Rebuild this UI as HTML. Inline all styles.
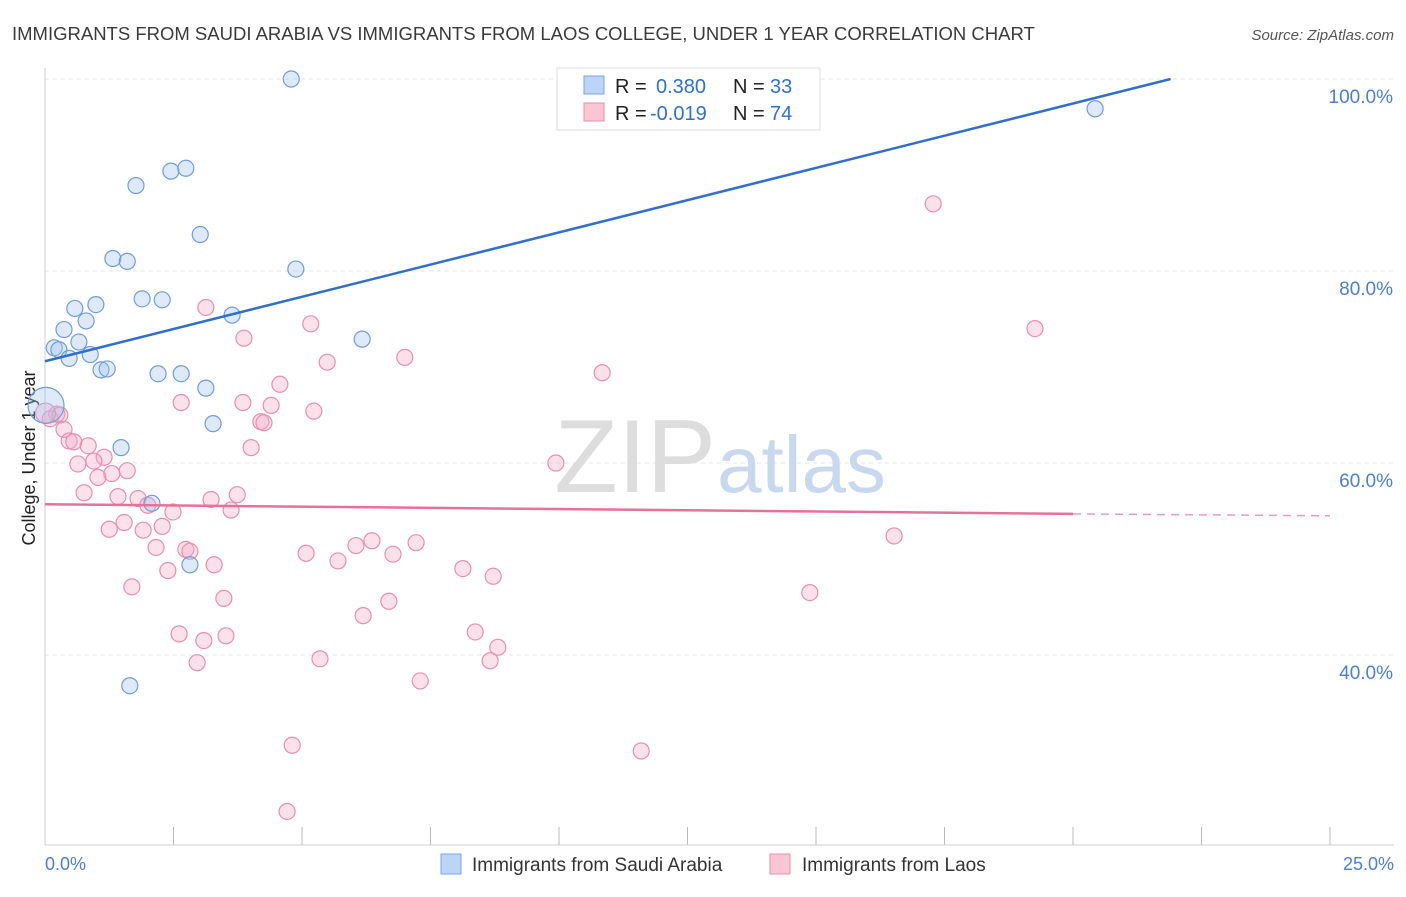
<!DOCTYPE html>
<html><head><meta charset="utf-8"><style>
body{margin:0;background:#fff;font-family:"Liberation Sans",sans-serif}
svg text{font-family:"Liberation Sans",sans-serif}
</style></head><body>
<svg width="1406" height="892">
<text x="12" y="40" font-size="18.5" fill="#3a3a3a">IMMIGRANTS FROM SAUDI ARABIA VS IMMIGRANTS FROM LAOS COLLEGE, UNDER 1 YEAR CORRELATION CHART</text>
<text x="1394" y="40" font-size="15" fill="#555" text-anchor="end" font-style="italic">Source: ZipAtlas.com</text>
<g id="grid"></g>
<line x1="45" y1="68" x2="45" y2="845" stroke="#ccc"/>
<line x1="45" y1="845" x2="1394" y2="845" stroke="#ccc"/>
<text x="716" y="492" font-size="104" fill="#ddd" text-anchor="end" font-family="Liberation Serif">ZIP</text>
<text x="717" y="492" font-size="80" fill="#c8d8ee">atlas</text>
<text x="35" y="458" font-size="18" fill="#222" text-anchor="middle" transform="rotate(-90 35 458)">College, Under 1 year</text>
<text x="45" y="870" font-size="18" fill="#4a7fd4">0.0%</text>
<text x="1394" y="870" font-size="18" fill="#4a7fd4" text-anchor="end">25.0%</text>
<g id="marks"></g>
<g>
<rect x="557" y="68" width="263" height="62" fill="#fff" stroke="#ddd"/>
<rect x="584" y="76" width="20" height="18" fill="#bcd4f6" stroke="#7aa6e0"/>
<rect x="584" y="103" width="20" height="18" fill="#f9c6d6" stroke="#e98fae"/>
<text x="615" y="93" font-size="20" fill="#222">R =</text><text x="656" y="93" font-size="20" fill="#2f6fd0">0.380</text>
<text x="733" y="93" font-size="20" fill="#222">N =</text><text x="770" y="93" font-size="20" fill="#2f6fd0">33</text>
<text x="615" y="120" font-size="20" fill="#222">R =</text><text x="650" y="120" font-size="20" fill="#2f6fd0">-0.019</text>
<text x="733" y="120" font-size="20" fill="#222">N =</text><text x="770" y="120" font-size="20" fill="#2f6fd0">74</text>
</g>
<g>
<rect x="441" y="854" width="20" height="20" fill="#bcd4f6" stroke="#7aa6e0"/>
<text x="472" y="871" font-size="19" fill="#333">Immigrants from Saudi Arabia</text>
<rect x="770" y="854" width="20" height="20" fill="#f9c6d6" stroke="#e98fae"/>
<text x="802" y="871" font-size="19" fill="#333">Immigrants from Laos</text>
</g>
</svg>
<script>
const yTicks=[40,60,80,100];
const xTicks=[0,2.5,5,7.5,10,12.5,15,17.5,20,22.5,25];
const blueX=[4.79,20.43,1.77,2.45,2.74,3.02,1.32,1.60,4.88,1.89,2.28,0.58,0.99,0.80,3.64,0.37,0.66,0.18,0.27,0.47,0.88,1.09,1.21,2.20,2.65,3.13,6.17,3.27,1.48,2.08,2.82,1.65,0.02];
const blueY=[100,96.9,88.9,90.4,90.7,83.8,81.3,81.0,80.2,77.1,77.0,76.1,76.5,74.8,75.4,73.9,72.6,72.0,71.8,70.9,71.3,69.7,69.8,69.3,69.3,67.8,72.9,64.1,61.6,55.8,49.4,36.8,66.0];
const pinkX=[17.28,19.26,3.13,5.17,3.87,5.49,7.00,10.84,4.57,2.65,3.85,4.40,5.23,4.20,4.26,4.01,9.94,0.23,0.10,0.29,0.37,0.47,0.84,0.56,1.15,0.64,0.95,1.60,1.30,1.03,0.76,1.42,1.81,2.00,3.23,3.74,2.49,3.62,1.54,1.25,1.91,2.28,2.16,2.74,2.82,3.29,2.39,5.08,5.70,6.05,6.36,6.77,7.22,8.13,8.72,16.52,14.88,1.69,3.48,6.69,6.19,2.61,3.09,3.52,8.37,8.81,2.96,5.35,8.66,7.30,4.81,11.60,4.71,0.01];
const pinkY=[87.0,74.0,76.2,74.5,73.0,70.5,71.0,69.4,68.2,66.3,66.3,66.0,65.4,64.3,64.2,61.6,60.0,65.1,64.6,65.0,63.5,62.3,61.8,62.2,60.6,59.9,60.2,59.2,58.9,58.5,56.9,56.5,56.3,55.6,56.2,56.7,54.9,55.1,53.8,53.1,53.0,53.4,51.2,51.0,50.8,49.4,48.8,50.6,49.8,51.4,51.9,50.5,51.7,49.0,48.2,52.4,46.5,47.1,45.9,45.6,44.1,42.2,41.5,42.0,42.4,40.8,39.2,39.6,39.4,37.3,30.6,30.0,23.7,65.2];
const blueLine=[[0,70.6],[21.9,100]];
const pinkLine=[[0,55.7],[20,54.7],[25,54.5]];
const X=v=>45+v*51.4, Y=v=>79+(100-v)*9.6;
const NS='http://www.w3.org/2000/svg';
const grid=document.getElementById('grid'), marks=document.getElementById('marks');
function mk(tag,attrs,parent){const e=document.createElementNS(NS,tag);for(const k in attrs)e.setAttribute(k,attrs[k]);parent.appendChild(e);return e;}
yTicks.forEach(t=>{
 const l=mk('line',{x1:45,x2:1394,y1:Y(t),y2:Y(t),stroke:'#e6e6e6','stroke-dasharray':'4 4'},grid);
 
 
 const tx=mk('text',{x:1393,y:Y(t)+24,'font-size':19,fill:'#4a7fd4','text-anchor':'end'},grid);
 tx.textContent=t.toFixed(1)+'%';
 
 
});
xTicks.forEach(t=>{
 const l=mk('line',{x1:X(t),x2:X(t),y1:827,y2:845,stroke:'#bbb'},grid);
 
 
});
pinkX.forEach((v,i)=>{
 const c=mk('circle',{cx:X(v),cy:Y(pinkY[i]),r:i==pinkX.length-1?10:8,fill:'rgba(246,170,196,0.35)',stroke:'#e98fae','stroke-width':1.2},marks);
 
 
});
blueX.forEach((v,i)=>{
 const c=mk('circle',{cx:X(v),cy:Y(blueY[i]),r:i==blueX.length-1?18:8,fill:'rgba(160,194,240,0.35)',stroke:'#6f9ddc','stroke-width':1.2},marks);
 
 
});
const bl=mk('line',{x1:X(blueLine[0][0]),y1:Y(blueLine[0][1]),x2:X(blueLine[1][0]),y2:Y(blueLine[1][1]),stroke:'#2f6fd0','stroke-width':2.5},marks);


const pl=mk('line',{x1:X(pinkLine[0][0]),y1:Y(pinkLine[0][1]),x2:X(pinkLine[1][0]),y2:Y(pinkLine[1][1]),stroke:'#e8719b','stroke-width':2.5},marks);


const pd=mk('line',{x1:X(pinkLine[1][0]),y1:Y(pinkLine[1][1]),x2:X(pinkLine[2][0]),y2:Y(pinkLine[2][1]),stroke:'#e8719b','stroke-width':1.5,'stroke-dasharray':'8 6',opacity:0.7},marks);


</script>
</body></html>
